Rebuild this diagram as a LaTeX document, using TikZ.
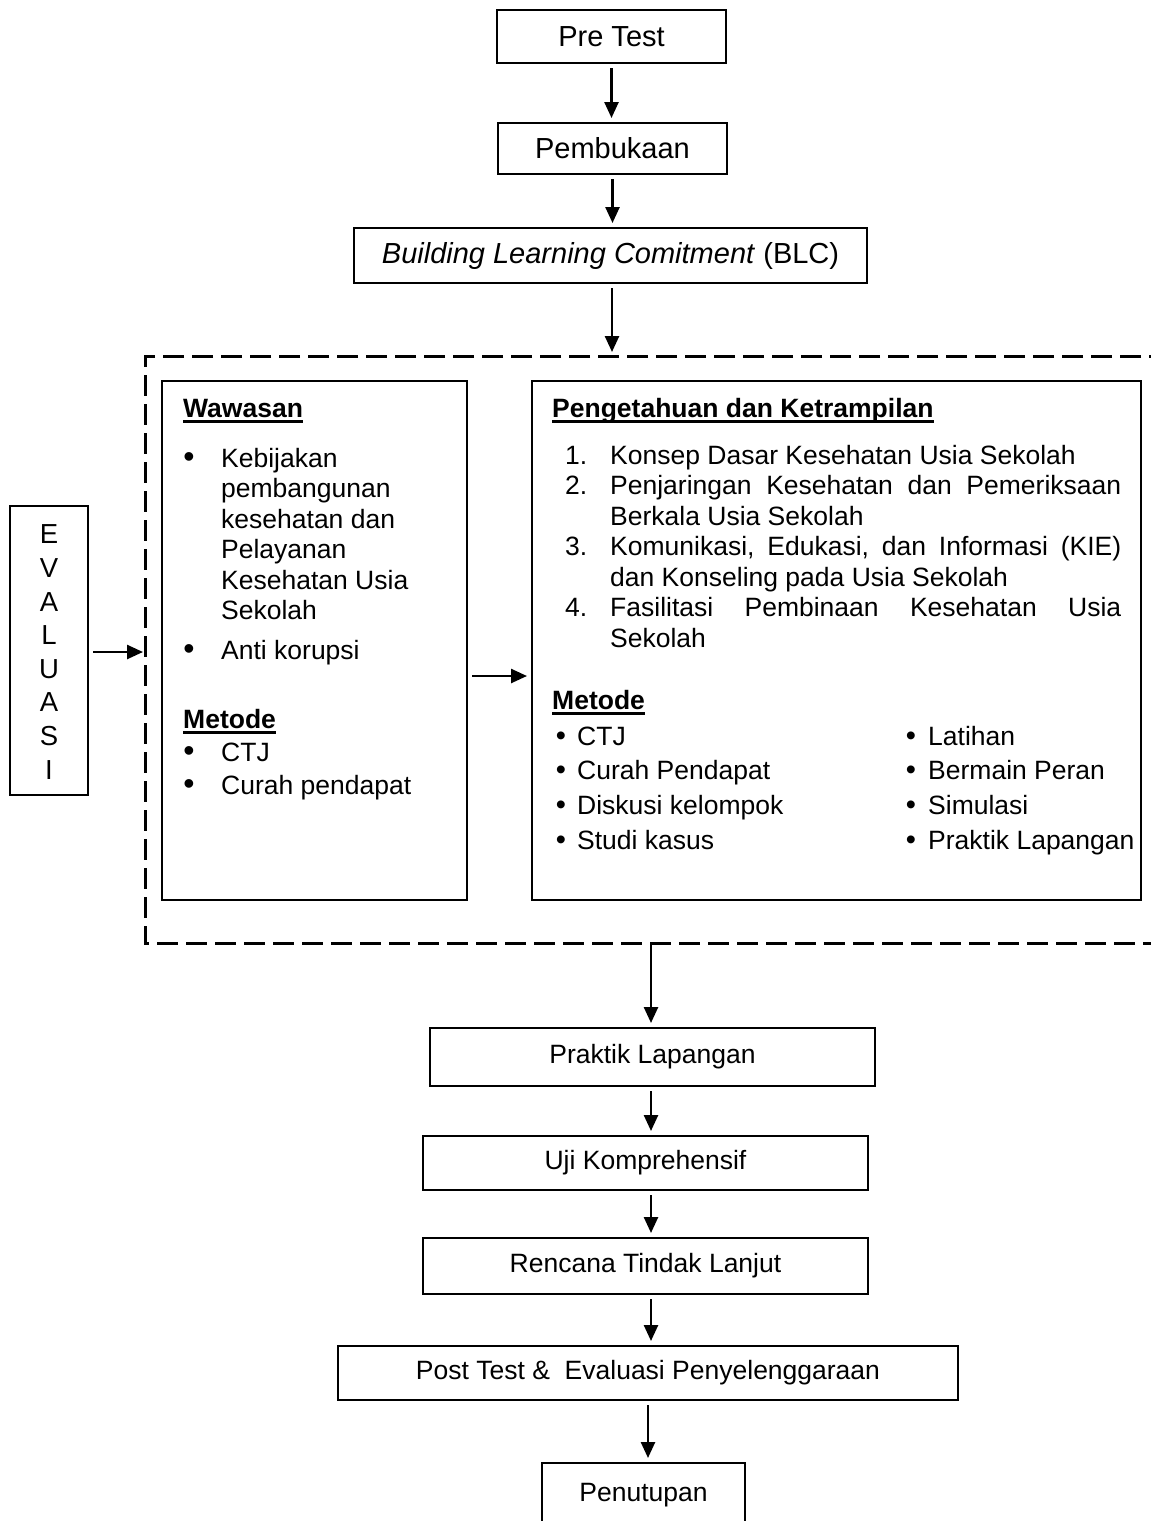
\documentclass[tikz,border=0pt]{standalone}
\usepackage{fontspec}
\setmainfont{Liberation Sans}
\usetikzlibrary{arrows.meta}
\newcommand\fontTop{\fontsize{29}{34}\selectfont}
\newcommand\fontBody{\fontsize{26.5}{30.5}\selectfont}
\newcommand\fontEv{\fontsize{27.5}{33.6}\selectfont}
\newcommand\fontBul{\fontsize{32}{30.5}\selectfont}
\newcommand\myul[1]{\setbox0\hbox{#1}\rlap{\rule[-6pt]{\wd0}{3pt}}\box0}
\tikzset{
  box/.style={draw, line width=2pt, inner sep=0pt, align=center},
  txt/.style={anchor=base west, inner sep=0pt, font=\fontBody},
  bul/.style={anchor=base, inner sep=0pt, font=\fontBul},
  bulr/.style={anchor=base, inner sep=0pt, font=\fontsize{29}{30.5}\selectfont},
  arr/.style={line width=2.5pt, -{Triangle[length=16pt,width=14pt]}, shorten <=4pt, shorten >=4pt},
  dashbox/.style={line width=3pt, dash pattern=on 21pt off 8pt}
}
\begin{document}
\begin{tikzpicture}[x=1pt,y=-1pt]
\useasboundingbox (0,0) rectangle (1151,1521);
\fill[white] (0,0) rectangle (1151,1521);

% top flow
\node[box, font=\fontTop, minimum width=229pt, minimum height=53pt] (pre) at (611.5,36.5) {Pre Test};
\node[box, font=\fontTop, minimum width=229pt, minimum height=51pt] (pemb) at (612.5,148.5) {Pembukaan};
\node[box, font=\fontTop, minimum width=513pt, minimum height=55pt] (blc) at (610.5,255.5) {\textit{Building Learning Comitment} (BLC)};

% dashed frame
\coordinate (dtl) at (145,356);
\coordinate (dbl) at (145,943);
\draw[dashbox] (1170,356) -- (dtl) -- (dbl) -- (1170,943);
\coordinate (dtop) at (612,356);
\coordinate (dbot) at (651,943);
\coordinate (dleft) at (145,652);

% inner boxes
\node[box, minimum width=305pt, minimum height=519pt] (wbox) at (314.5,640.5) {};
\node[box, minimum width=609pt, minimum height=519pt] (pbox) at (836.5,640.5) {};

% Wawasan content
\node[txt] (w0) at (183,417) {\textbf{\myul{Wawasan}}};
\node[bul] (wb1) at (189,467) {•};
\node[txt] (w1) at (221,467) {Kebijakan};
\node[txt] (w2) at (221,497.5) {pembangunan};
\node[txt] (w3) at (221,528) {kesehatan dan};
\node[txt] (w4) at (221,558.5) {Pelayanan};
\node[txt] (w5) at (221,589) {Kesehatan Usia};
\node[txt] (w6) at (221,619.5) {Sekolah};
\node[bul] (wb2) at (189,659) {•};
\node[txt] (w7) at (221,659) {Anti korupsi};
\node[txt] (wm) at (183,728) {\textbf{\myul{Metode}}};
\node[bul] (wb3) at (189,761) {•};
\node[txt] (w8) at (221,761) {CTJ};
\node[bul] (wb4) at (189,794) {•};
\node[txt] (w9) at (221,794) {Curah pendapat};

% Pengetahuan content
\node[txt] (p0) at (552,417) {\textbf{\myul{Pengetahuan dan Ketrampilan}}};
\node[txt] (n1) at (565,464) {1.};
\node[txt] (p1) at (610,464) {Konsep Dasar Kesehatan Usia Sekolah};
\node[txt] (n2) at (565,494.5) {2.};
\node[txt] (p2) at (610,494.5) {\hbox to 511pt{Penjaringan\hfill Kesehatan\hfill dan\hfill Pemeriksaan}};
\node[txt] (p3) at (610,525) {Berkala Usia Sekolah};
\node[txt] (n3) at (565,555.5) {3.};
\node[txt] (p4) at (610,555.5) {\hbox to 511pt{Komunikasi,\hfill Edukasi,\hfill dan\hfill Informasi\hfill (KIE)}};
\node[txt] (p5) at (610,586) {dan Konseling pada Usia Sekolah};
\node[txt] (n4) at (565,616.5) {4.};
\node[txt] (p6) at (610,616.5) {\hbox to 511pt{Fasilitasi\hfill Pembinaan\hfill Kesehatan\hfill Usia}};
\node[txt] (p7) at (610,647) {Sekolah};
\node[txt] (pm) at (552,709) {\textbf{\myul{Metode}}};
\node[bulr] (pb1) at (561,745) {•};
\node[txt] (m1) at (577,745) {CTJ};
\node[bulr] (pb2) at (561,779) {•};
\node[txt] (m2) at (577,779) {Curah Pendapat};
\node[bulr] (pb3) at (561,814) {•};
\node[txt] (m3) at (577,814) {Diskusi kelompok};
\node[bulr] (pb4) at (561,849) {•};
\node[txt] (m4) at (577,849) {Studi kasus};
\node[bulr] (pb5) at (911,745) {•};
\node[txt] (m5) at (928,745) {Latihan};
\node[bulr] (pb6) at (911,779) {•};
\node[txt] (m6) at (928,779) {Bermain Peran};
\node[bulr] (pb7) at (911,814) {•};
\node[txt] (m7) at (928,814) {Simulasi};
\node[bulr] (pb8) at (911,849) {•};
\node[txt] (m8) at (928,849) {Praktik Lapangan};

% EVALUASI
\node[box, minimum width=78pt, minimum height=289pt] (ev) at (49,650.5) {};
\node[inner sep=0pt, align=center, font=\fontEv] (evt) at (49,652) {E\\V\\A\\L\\U\\A\\S\\I};

% bottom flow
\node[box, font=\fontBody, minimum width=445pt, minimum height=58pt] (prak) at (652.5,1057) {Praktik Lapangan};
\node[box, font=\fontBody, minimum width=445pt, minimum height=54pt] (uji) at (645.5,1163) {Uji Komprehensif};
\node[box, font=\fontBody, minimum width=445pt, minimum height=56pt] (ren) at (645.5,1266) {Rencana Tindak Lanjut};
\node[box, font=\fontBody, minimum width=620pt, minimum height=54pt] (post) at (648,1373) {Post Test \&\ \ Evaluasi Penyelenggaraan};
\node[box, font=\fontBody, minimum width=203pt, minimum height=64pt] (tutup) at (643.5,1495) {Penutupan};

% connectors
\coordinate (xa) at (651,0);
\coordinate (xb) at (648,0);
\coordinate (ya) at (0,676);
\draw[arr] (pre.south) -- (pre.south |- pemb.north);
\draw[arr] (pemb.south) -- (pemb.south |- blc.north);
\draw[arr] (blc.south -| dtop) -- (dtop);
\draw[arr, shorten <=0pt] (dbot) -- (dbot |- prak.north);
\draw[arr] (prak.south -| xa) -- (uji.north -| xa);
\draw[arr] (uji.south -| xa) -- (ren.north -| xa);
\draw[arr] (ren.south -| xa) -- (post.north -| xa);
\draw[arr] (post.south -| xb) -- (tutup.north -| xb);
\draw[arr, shorten >=2pt] (ev.east |- dleft) -- (dleft);
\draw[arr] (wbox.east |- ya) -- (pbox.west |- ya);
\end{tikzpicture}
\end{document}
